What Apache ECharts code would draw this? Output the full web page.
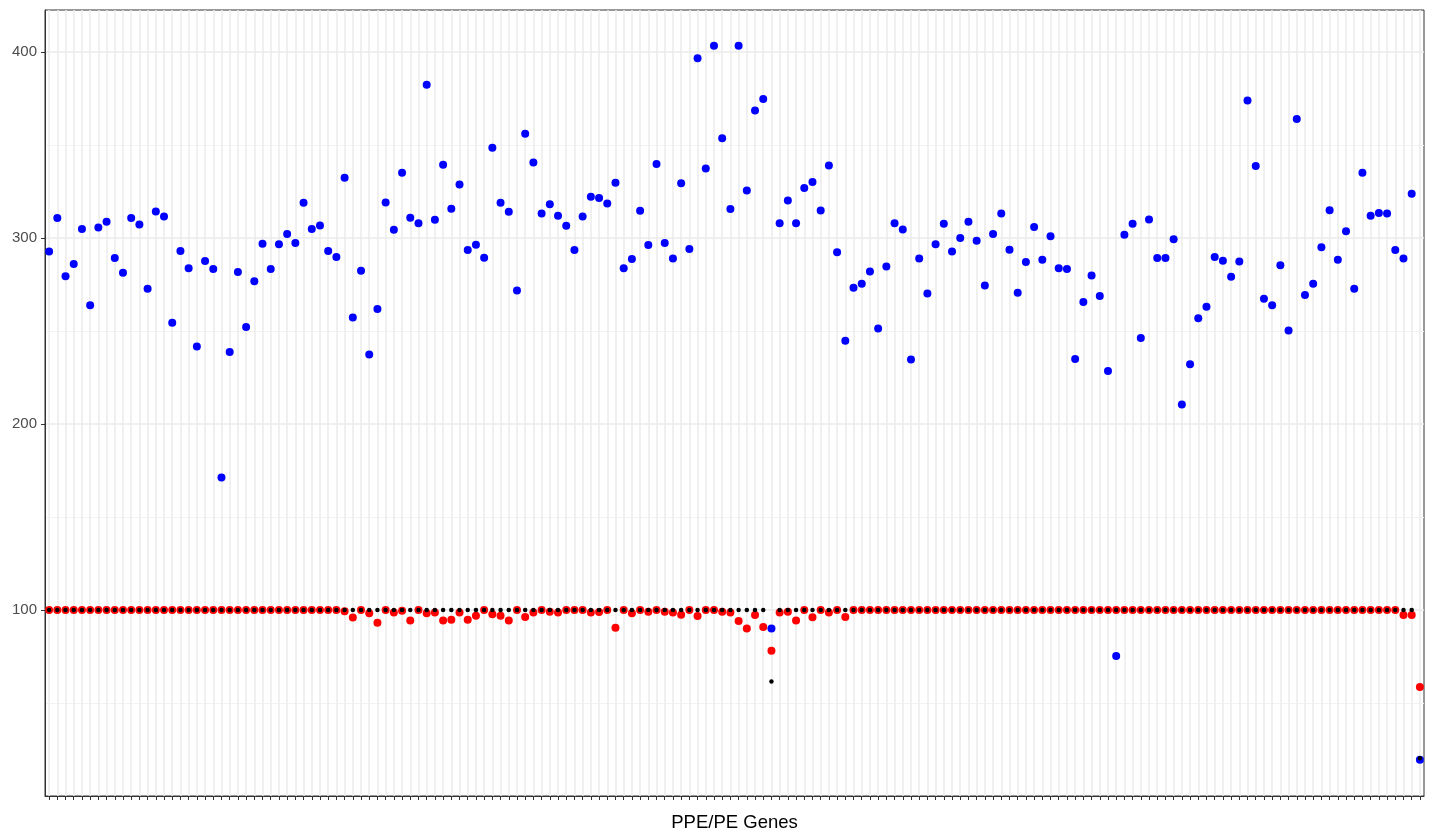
<!DOCTYPE html>
<html>
<head>
<meta charset="utf-8">
<script src="https://cdn.jsdelivr.net/npm/echarts@6/dist/echarts.min.js"></script>
<style>
  html, body { margin: 0; padding: 0; background: #fff; }
  #chart { width: 1434px; height: 833px; }
</style>
</head>
<body>
<div id="chart"></div>
<script>
// blue series, one value per gene
const blueVals = [
  292.8, 310.7, 279.5, 286.0, 304.8, 263.9, 305.7, 308.8, 289.2, 281.3,
  310.7, 307.3, 272.7, 314.3, 311.6, 254.4, 293.0, 283.8, 241.7, 287.6,
  283.3, 171.3, 238.7, 281.7, 252.1, 276.7, 296.9, 283.3, 296.7, 302.1,
  297.3, 318.9, 304.8, 306.8, 293.0, 289.8, 332.4, 257.3, 282.4, 237.4,
  261.8, 319.1, 304.5, 335.1, 310.9, 308.0, 382.4, 309.8, 339.4, 315.7,
  328.8, 293.5, 296.4, 289.4, 348.5, 318.9, 314.1, 271.8, 356.1, 340.6,
  313.2, 318.1, 312.0, 306.6, 293.5, 311.6, 322.2, 321.5, 318.6, 329.7,
  283.8, 288.7, 314.7, 296.2, 339.8, 297.3, 289.0, 329.5, 294.1, 396.6,
  337.4, 403.4, 353.6, 315.6, 403.4, 325.6, 368.6, 374.7, 90.0, 307.9,
  320.2, 307.9, 326.9, 330.1, 314.8, 339.0, 292.4, 244.8, 273.3, 275.4,
  282.0, 251.4, 284.7, 308.0, 304.6, 234.7, 289.0, 270.2, 296.6, 307.7,
  292.8, 300.0, 308.7, 298.5, 274.5, 302.1, 313.2, 293.7, 270.6, 287.1,
  305.9, 288.3, 300.9, 283.8, 283.3, 234.9, 265.6, 279.9, 268.8, 228.5,
  75.3, 301.8, 307.7, 246.2, 310.0, 289.2, 289.2, 299.4, 210.5, 232.2,
  256.8, 263.1, 289.8, 287.8, 279.2, 287.4, 374.0, 338.7, 267.4, 263.8,
  285.3, 250.3, 364.0, 269.3, 275.4, 295.0, 315.0, 288.3, 303.6, 272.7,
  335.1, 312.0, 313.4, 313.2, 293.5, 289.0, 323.8, 19.5
];

// red series
const redVals = [
  100, 100, 100, 100, 100, 100, 100, 100, 100, 100,
  100, 100, 100, 100, 100, 100, 100, 100, 100, 100,
  100, 100, 100, 100, 100, 100, 100, 100, 100, 100,
  100, 100, 100, 100, 100, 100, 99.3, 96.0, 100, 98.2,
  93.2, 100, 98.7, 99.6, 94.3, 100, 98.2, 98.7, 94.3, 94.8,
  98.7, 94.8, 96.9, 100, 97.7, 96.9, 94.3, 100, 96.2, 98.6,
  100, 99.1, 98.7, 100, 100, 100, 98.7, 98.9, 100, 90.5,
  100, 98.2, 100, 99.0, 100, 99.0, 98.7, 97.5, 100, 96.8,
  100, 100, 99.0, 98.7, 94.1, 90.1, 97.3, 90.9, 78.1, 98.7,
  99.0, 94.3, 100, 96.1, 100, 98.7, 100, 96.2, 100, 100,
  100, 100, 100, 100, 100, 100, 100, 100, 100, 100,
  100, 100, 100, 100, 100, 100, 100, 100, 100, 100,
  100, 100, 100, 100, 100, 100, 100, 100, 100, 100,
  100, 100, 100, 100, 100, 100, 100, 100, 100, 100,
  100, 100, 100, 100, 100, 100, 100, 100, 100, 100,
  100, 100, 100, 100, 100, 100, 100, 100, 100, 100,
  100, 100, 100, 100, 100, 97.3, 97.3, 58.6
];

// black series
const blackVals = [
  100, 100, 100, 100, 100, 100, 100, 100, 100, 100,
  100, 100, 100, 100, 100, 100, 100, 100, 100, 100,
  100, 100, 100, 100, 100, 100, 100, 100, 100, 100,
  100, 100, 100, 100, 100, 100, 100, 100, 100, 100,
  100, 100, 100, 100, 100, 100, 100, 100, 100, 100,
  100, 100, 100, 100, 100, 100, 100, 100, 100, 100,
  100, 100, 100, 100, 100, 100, 100, 100, 100, 100,
  100, 100, 100, 100, 100, 100, 100, 100, 100, 100,
  100, 100, 100, 100, 100, 100, 100, 100, 61.5, 100,
  100, 100, 100, 100, 100, 100, 100, 100, 100, 100,
  100, 100, 100, 100, 100, 100, 100, 100, 100, 100,
  100, 100, 100, 100, 100, 100, 100, 100, 100, 100,
  100, 100, 100, 100, 100, 100, 100, 100, 100, 100,
  100, 100, 100, 100, 100, 100, 100, 100, 100, 100,
  100, 100, 100, 100, 100, 100, 100, 100, 100, 100,
  100, 100, 100, 100, 100, 100, 100, 100, 100, 100,
  100, 100, 100, 100, 100, 100, 100, 20.3
];

const yTicks = [100, 200, 300, 400];

// gene names are not shown on the axis
const genes = blueVals.map((v, i) => 'gene' + (i + 1));

const chart = echarts.init(document.getElementById('chart'));

chart.setOption({
  animation: false,
  textStyle: { fontFamily: 'Liberation Sans, Arial, sans-serif' },
  grid: {
    left: 45, right: 10, top: 10, bottom: 37,
    outerBoundsMode: 'none',
    containLabel: false,
    show: true,
    borderColor: '#333333',
    borderWidth: 1,
    backgroundColor: '#ffffff'
  },
  xAxis: {
    type: 'category',
    data: genes,
    boundaryGap: true,
    name: 'PPE/PE Genes',
    nameLocation: 'middle',
    nameGap: 17,
    nameTextStyle: { color: '#000', fontSize: 18.5 },
    axisLine: { show: true, lineStyle: { color: '#333333', width: 1 } },
    axisTick: { show: true, interval: 0, alignWithLabel: true, length: 4, lineStyle: { color: '#333333' } },
    axisLabel: { show: false },
    splitLine: { show: true, interval: 0, alignWithLabel: true, lineStyle: { color: '#EBEBEB', width: 1.5 } }
  },
  yAxis: {
    type: 'value',
    min: 0,
    max: 422.6,
    interval: 100,
    axisLine: { show: true, lineStyle: { color: '#333333', width: 1 } },
    axisTick: { show: true, length: 4, customValues: yTicks, lineStyle: { color: '#333333' } },
    axisLabel: {
      color: '#4D4D4D',
      fontSize: 15,
      margin: 8,
      customValues: yTicks
    },
    splitLine: { show: true, lineStyle: { color: '#EBEBEB', width: 1.5 } },
    minorTick: { show: false, splitNumber: 2 },
    minorSplitLine: { show: true, lineStyle: { color: '#F2F2F2', width: 1 } }
  },
  series: [
    {
      name: 'blue', type: 'scatter', data: blueVals,
      symbolSize: 8, itemStyle: { color: '#0000FF', opacity: 1 }, z: 2
    },
    {
      name: 'red', type: 'scatter', data: redVals,
      symbolSize: 8, itemStyle: { color: '#FF0000', opacity: 1 }, z: 3
    },
    {
      name: 'black', type: 'scatter', data: blackVals,
      symbolSize: 4.5, itemStyle: { color: '#000000', opacity: 1 }, z: 4
    }
  ]
});
</script>
</body>
</html>
